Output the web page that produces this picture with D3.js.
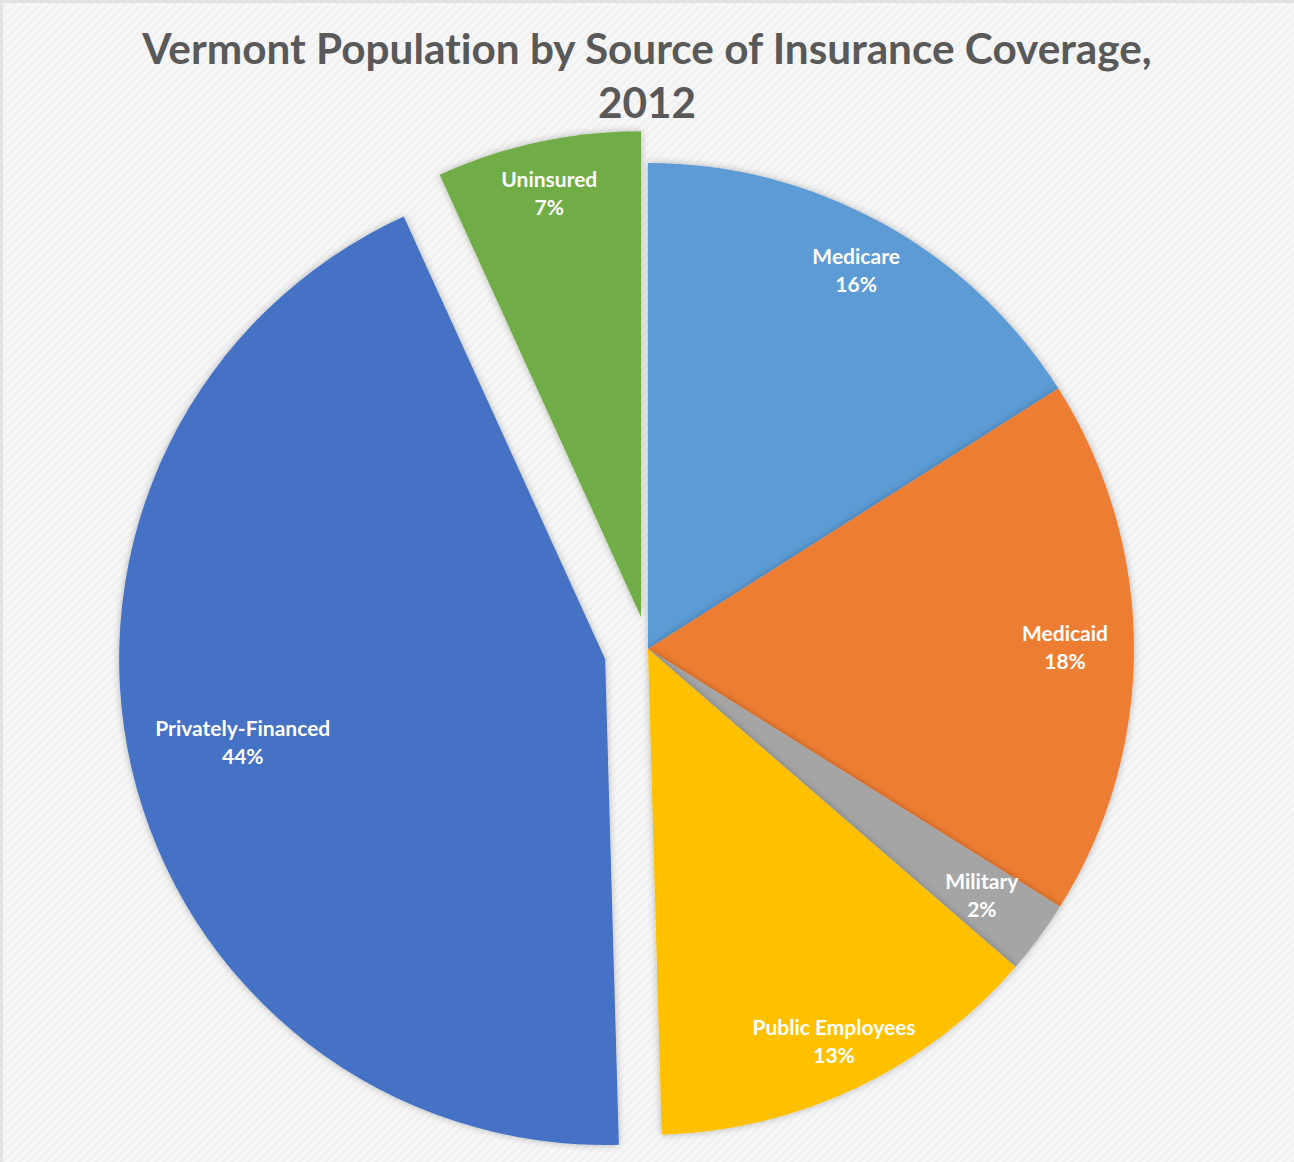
<!DOCTYPE html>
<html>
<head>
<meta charset="utf-8">
<script src="https://cdn.jsdelivr.net/npm/d3@7"></script>
<style>
  html, body { margin: 0; padding: 0; background: #f5f5f5; }
  svg { display: block; }
  text { font-variant-ligatures: none; font-feature-settings: "liga" 0, "clig" 0; }
</style>
</head>
<body>
<svg id="chart" width="1294" height="1162"></svg>
<script>
// ---- data ----
const categories = ["Medicare", "Medicaid", "Military", "Public Employees", "Privately-Financed", "Uninsured"];
const values = [16.0, 17.9, 2.45, 13.2, 43.65, 6.8];
const titleLines = ["Vermont Population by Source of Insurance Coverage,", "2012"];

// ---- styling / layout (kept separate from the data) ----
const colors = ["#5B9BD5", "#ED7D31", "#A5A5A5", "#FFC000", "#4472C4", "#70AD47"];
const explode = [0, 0, 0, 0, 44, 32.6];
const labelRadius = [432, 417, 415, 434, 372, 433];

const W = 1294, H = 1162;
const cx = 648, cy = 649, R = 486;

const svg = d3.select("#chart");

// background
const defs = svg.append("defs");
const pat = defs.append("pattern")
  .attr("id", "bgpat").attr("width", 6).attr("height", 6)
  .attr("patternUnits", "userSpaceOnUse")
  .attr("patternTransform", "rotate(45)");
pat.append("rect").attr("width", 6).attr("height", 6).attr("fill", "#f7f7f7");
pat.append("rect").attr("width", 3).attr("height", 6).attr("fill", "#f1f1f1");

svg.append("rect").attr("width", W).attr("height", H).attr("fill", "url(#bgpat)");
svg.append("path")
  .attr("d", `M1.5,${H} L1.5,1.5 L${W},1.5`)
  .attr("fill", "none").attr("stroke", "#e2e2e2").attr("stroke-width", 3);

const shadow = defs.append("filter").attr("id", "shadow")
  .attr("x", "-20%").attr("y", "-20%").attr("width", "140%").attr("height", "140%");
shadow.append("feDropShadow")
  .attr("dx", 0).attr("dy", 0).attr("stdDeviation", 3.5)
  .attr("flood-color", "#000").attr("flood-opacity", 0.28);

// title
const title = svg.append("text")
  .attr("text-anchor", "middle")
  .attr("font-family", "Lato, 'Open Sans', sans-serif")
  .attr("font-weight", "bold")
  .attr("font-size", 42.3)
  .attr("fill", "#595959");
title.selectAll("tspan").data(titleLines).join("tspan")
  .attr("x", 647)
  .attr("y", (d, i) => 64 + i * 54)
  .text(d => d);

// pie
const total = d3.sum(values);
const pct = d3.format(".0%");
const pie = d3.pie().sort(null).value(d => d).startAngle(0).endAngle(2 * Math.PI);
const arcs = pie(values);
const arc = d3.arc().innerRadius(0).outerRadius(R);

const g = svg.append("g").attr("transform", `translate(${cx},${cy})`);

const slices = g.selectAll("g.slice").data(arcs).join("g")
  .attr("class", "slice")
  .attr("transform", (d, i) => {
    const a = (d.startAngle + d.endAngle) / 2;
    const off = explode[i];
    return `translate(${off * Math.sin(a)},${-off * Math.cos(a)})`;
  });

slices.append("path")
  .attr("d", arc)
  .attr("fill", (d, i) => colors[i])
  .attr("filter", "url(#shadow)");

const labels = slices.append("text")
  .attr("text-anchor", "middle")
  .attr("font-family", "Lato, 'Open Sans', sans-serif")
  .attr("font-weight", "bold")
  .attr("font-size", 21)
  .attr("fill", "#ffffff")
  .attr("transform", (d, i) => {
    const a = (d.startAngle + d.endAngle) / 2;
    const r = labelRadius[i];
    return `translate(${r * Math.sin(a)},${-r * Math.cos(a)})`;
  });

labels.append("tspan").attr("x", 0).attr("y", -6.5).text((d, i) => categories[i]);
labels.append("tspan").attr("x", 0).attr("y", 21.5).text(d => pct(d.value / total));
</script>
</body>
</html>
